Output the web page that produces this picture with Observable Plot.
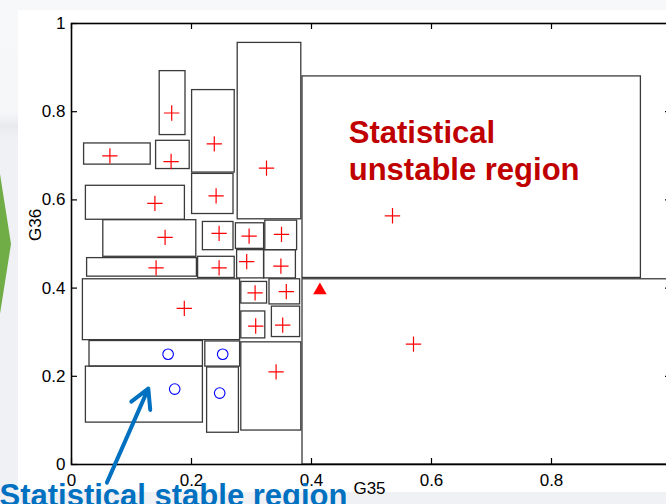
<!DOCTYPE html>
<html>
<head>
<meta charset="utf-8">
<script src="https://cdn.jsdelivr.net/npm/d3@7"></script>
<script src="https://cdn.jsdelivr.net/npm/@observablehq/plot@0.6"></script>
<style>
  html, body { margin: 0; padding: 0; }
  body {
    width: 666px; height: 504px; overflow: hidden; position: relative;
    background: linear-gradient(180deg, #f7f8fa 0px, #f6f7f9 112px, #e9eaee 126px, #f0f1f4 140px, #f0f1f4 100%);
    font-family: "Liberation Sans", Arial, sans-serif;
  }
  #panel { position: absolute; left: 18px; top: 10px; width: 660px; height: 482px; background: #ffffff; }
  #chevron { position: absolute; left: 0; top: 174px; width: 11px; height: 140px; background: #70ad47;
             clip-path: polygon(0 0, 100% 50%, 0 100%); }
  #chart { position: absolute; left: 0; top: 0; width: 681px; }
  #chart svg { max-width: none !important; }
</style>
</head>
<body>
<div id="chevron"></div>
<div id="panel"></div>
<div id="chart"></div>
<script>
// Partition boxes in the (G35, G36) plane: left, right, bottom, top edges
const boxLeft   = [0.147, 0.201, 0.277, 0.021, 0.141, 0.201, 0.024, 0.053, 0.219, 0.274, 0.323, 0.026, 0.211, 0.276, 0.321, 0.019, 0.283, 0.330, 0.283, 0.334, 0.030, 0.223, 0.024, 0.226, 0.283, 0.385, 0.385];
const boxRight  = [0.190, 0.272, 0.383, 0.132, 0.197, 0.270, 0.189, 0.208, 0.270, 0.321, 0.376, 0.209, 0.272, 0.321, 0.374, 0.281, 0.326, 0.381, 0.323, 0.381, 0.219, 0.281, 0.219, 0.279, 0.383, 0.949, 1.000];
const boxBottom = [0.747, 0.662, 0.556, 0.680, 0.670, 0.568, 0.555, 0.471, 0.486, 0.489, 0.486, 0.426, 0.423, 0.422, 0.422, 0.282, 0.365, 0.363, 0.286, 0.289, 0.222, 0.222, 0.095, 0.072, 0.077, 0.423, 0.000];
const boxTop    = [0.892, 0.849, 0.956, 0.728, 0.734, 0.659, 0.632, 0.554, 0.550, 0.547, 0.553, 0.468, 0.471, 0.486, 0.486, 0.420, 0.414, 0.420, 0.347, 0.358, 0.280, 0.279, 0.222, 0.220, 0.277, 0.880, 0.420];

// Unstable samples (red plus)
const unstableG35 = [0.167, 0.238, 0.325, 0.064, 0.166, 0.241, 0.139, 0.156, 0.246, 0.296, 0.350, 0.141, 0.246, 0.292, 0.349, 0.188, 0.306, 0.358, 0.307, 0.352, 0.341, 0.535, 0.570];
const unstableG36 = [0.797, 0.727, 0.672, 0.700, 0.687, 0.609, 0.592, 0.515, 0.524, 0.518, 0.522, 0.446, 0.446, 0.460, 0.450, 0.354, 0.389, 0.392, 0.314, 0.316, 0.210, 0.564, 0.273];

// Stable samples (blue circles)
const stableG35 = [0.161, 0.252, 0.172, 0.247];
const stableG36 = [0.250, 0.250, 0.171, 0.162];

// Query point (red triangle)
const queryG35 = [0.414];
const queryG36 = [0.395];

// Axis ticks and their labels (the x = 1 label falls past the right edge of the view)
const xTicks = [0, 0.2, 0.4, 0.6, 0.8, 1];
const xLabelTicks = [0, 0.2, 0.4, 0.6, 0.8];
const xTickLabels = ["0", "0.2", "0.4", "0.6", "0.8"];
const yTicks = [0, 0.2, 0.4, 0.6, 0.8, 1];
const yTickLabels = ["0", "0.2", "0.4", "0.6", "0.8", "1"];
const xTitle = "G35";
const yTitle = "G36";

// Region annotations
const noteText  = ["Statistical\nunstable region", "Statistical stable region"];
const noteG35   = [0.462, -0.120];
const noteG36   = [0.788, -0.034];
const noteColor = ["#c00000", "#0070c0"];

// Pointer from the stable-region note into the stable boxes
const pointerFrom = [0.059, -0.041];
const pointerTo   = [0.128, 0.172];

const boxes = boxLeft.map((_, i) => ({x1: boxLeft[i], x2: boxRight[i], y1: boxBottom[i], y2: boxTop[i]}));
const unstable = unstableG35.map((x, i) => ({x, y: unstableG36[i]}));
const stable = stableG35.map((x, i) => ({x, y: stableG36[i]}));
const query = queryG35.map((x, i) => ({x, y: queryG36[i]}));
const notes = noteText.map((t, i) => ({t, x: noteG35[i], y: noteG36[i], c: noteColor[i]}));
const pointer = [{x1: pointerFrom[0], y1: pointerFrom[1], x2: pointerTo[0], y2: pointerTo[1]}];
const xLab = new Map(xLabelTicks.map((v, i) => [v, xTickLabels[i]]));
const yLab = new Map(yTicks.map((v, i) => [v, yTickLabels[i]]));

const W = 681, H = 504, mL = 71, mR = 10, mT = 23, mB = 40;
const plotW = W - mL - mR, plotH = H - mT - mB;
const tickLen = 6;

const chart = Plot.plot({
  width: W, height: H,
  marginLeft: mL, marginRight: mR, marginTop: mT, marginBottom: mB,
  x: {domain: [0, 1]},
  y: {domain: [0, 1]},
  style: {background: "transparent", fontFamily: "'Liberation Sans', Arial, sans-serif", fontSize: "17px", color: "#000", overflow: "visible", maxWidth: "none"},
  marks: [
    Plot.rect(boxes, {x1: "x1", x2: "x2", y1: "y1", y2: "y2", fill: "none", stroke: "#3a3a3a", strokeWidth: 1.3}),
    Plot.dot(unstable, {x: "x", y: "y", symbol: "plus", r: 5, stroke: "#ff0000", strokeWidth: 1.2}),
    Plot.dot(stable, {x: "x", y: "y", symbol: "circle", r: 5.3, stroke: "#0000ff", strokeWidth: 1.1, fill: "none"}),
    Plot.dot(query, {x: "x", y: "y", symbol: "triangle", r: 5, fill: "#ff0000", stroke: "none"}),
    Plot.frame({stroke: "#000", strokeWidth: 1.6}),
    // inward ticks on all four sides
    Plot.tickX(xTicks, {x: d => d, insetTop: plotH - tickLen, stroke: "#000", strokeWidth: 1.2}),
    Plot.tickX(xTicks, {x: d => d, insetBottom: plotH - tickLen, stroke: "#000", strokeWidth: 1.2}),
    Plot.tickY(yTicks, {y: d => d, insetRight: plotW - tickLen, stroke: "#000", strokeWidth: 1.2}),
    Plot.tickY(yTicks, {y: d => d, insetLeft: plotW - tickLen, stroke: "#000", strokeWidth: 1.2}),
    Plot.axisX(xLabelTicks, {tickSize: 0, tickPadding: 9, tickFormat: d => xLab.get(d), label: null, fontSize: 17, fill: "#000"}),
    Plot.axisY(yTicks, {tickSize: 0, tickPadding: 6, tickFormat: d => yLab.get(d), label: null, fontSize: 17, fill: "#000"}),
    Plot.text([xTitle], {text: d => d, frameAnchor: "bottom", dx: -2, dy: 24, lineAnchor: "middle", fontSize: 17, fill: "#000"}),
    Plot.text([yTitle], {text: d => d, frameAnchor: "left", dx: -36, dy: -3, rotate: -90, lineAnchor: "middle", fontSize: 17, fill: "#000"}),
    Plot.arrow(pointer, {x1: "x1", y1: "y1", x2: "x2", y2: "y2", stroke: "#0070c0", strokeWidth: 4, headLength: 8, headAngle: 58}),
    Plot.text(notes, {x: "x", y: "y", text: "t", fill: "c", fontSize: 31, fontWeight: "bold", textAnchor: "start", lineAnchor: "top", lineHeight: 1.19})
  ]
});
document.getElementById("chart").appendChild(chart);
</script>
</body>
</html>
